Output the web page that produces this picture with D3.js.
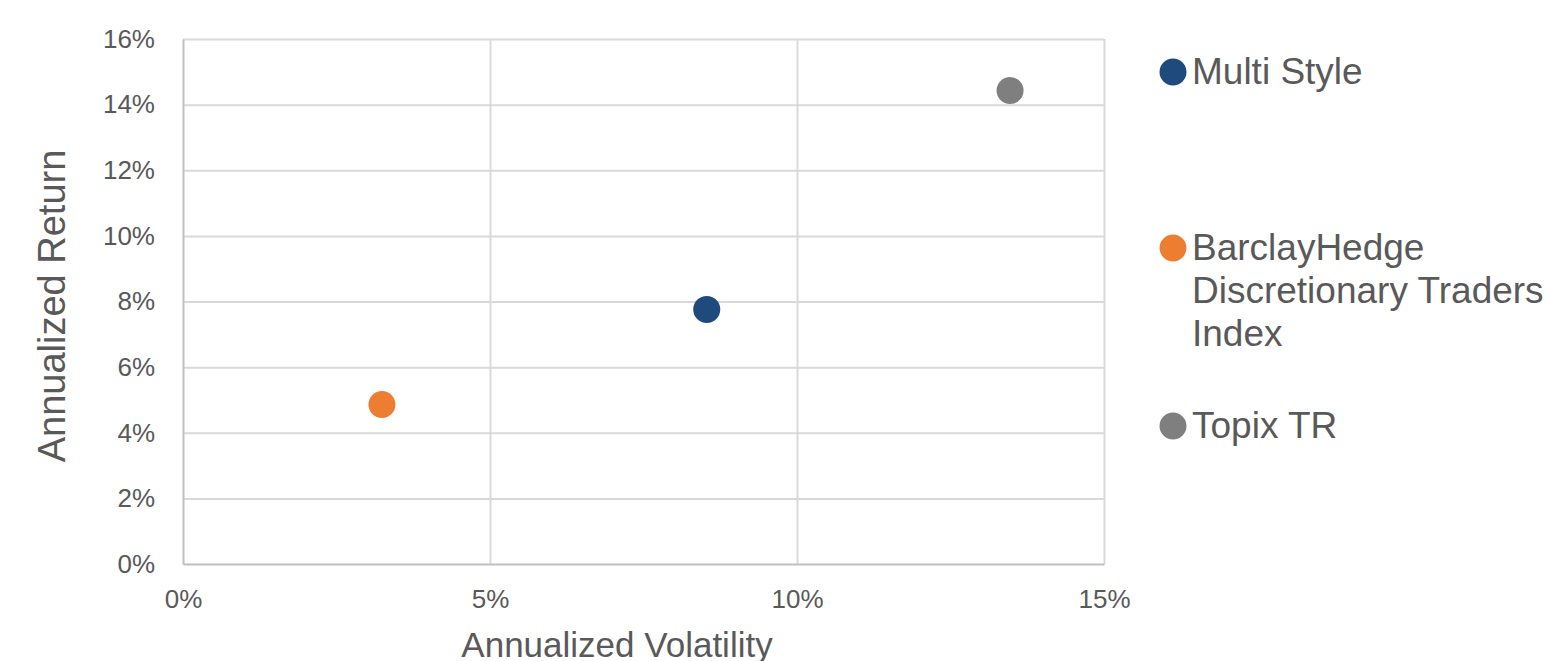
<!DOCTYPE html>
<html>
<head>
<meta charset="utf-8">
<script src="https://cdn.jsdelivr.net/npm/d3@7"></script>
<style>
  html, body { margin: 0; padding: 0; background: #fff; }
  svg { display: block; font-family: "Liberation Sans", Arial, sans-serif; }
</style>
</head>
<body>
<svg id="chart" width="1548" height="661"></svg>
<script>
// data
var seriesNames = ["Multi Style", "BarclayHedge Discretionary Traders Index", "Topix TR"];
var volatility = [0.0853, 0.0324, 0.1347];
var annReturn = [0.0776, 0.0486, 0.1443];
var xTickValues = [0, 0.05, 0.10, 0.15];
var yTickValues = [0, 0.02, 0.04, 0.06, 0.08, 0.10, 0.12, 0.14, 0.16];

var colors = ["#1f4a7d", "#ed7d31", "#7f7f7f"];
var textColor = "#595959";
var gridColor = "#d9d9d9";

var svg = d3.select("#chart");

var plotLeft = 183, plotRight = 1104, plotTop = 39, plotBottom = 564;

var x = d3.scaleLinear().domain([0, 0.15]).range([plotLeft, plotRight]);
var y = d3.scaleLinear().domain([0, 0.16]).range([plotBottom, plotTop]);
var color = d3.scaleOrdinal().domain(seriesNames).range(colors);

var points = seriesNames.map(function(name, i) {
    return { name: name, vol: volatility[i], ret: annReturn[i] };
});

// grid lines
svg.append("g")
    .attr("transform", "translate(0," + plotBottom + ")")
    .call(d3.axisBottom(x).tickValues(xTickValues.slice(1))
        .tickSize(-(plotBottom - plotTop)).tickFormat(""))
    .call(function(g) {
        g.select(".domain").remove();
        g.selectAll("line").attr("stroke", gridColor).attr("stroke-width", 2);
    });

svg.append("g")
    .attr("transform", "translate(" + plotLeft + ",0)")
    .call(d3.axisLeft(y).tickValues(yTickValues.slice(1))
        .tickSize(-(plotRight - plotLeft)).tickFormat(""))
    .call(function(g) {
        g.select(".domain").remove();
        g.selectAll("line").attr("stroke", gridColor).attr("stroke-width", 2);
    });

// x axis
var xAxis = svg.append("g")
    .attr("transform", "translate(0," + plotBottom + ")")
    .call(d3.axisBottom(x).tickValues(xTickValues).tickSize(0).tickPadding(26)
        .tickFormat(d3.format(".0%")));
xAxis.select(".domain").attr("stroke", "#bfbfbf").attr("stroke-width", 2);
xAxis.selectAll("text").attr("fill", textColor).attr("font-size", "26px")
    .attr("font-family", "Liberation Sans, Arial, sans-serif");

// y axis
var yAxis = svg.append("g")
    .attr("transform", "translate(" + plotLeft + ",0)")
    .call(d3.axisLeft(y).tickValues(yTickValues).tickSize(0).tickPadding(28)
        .tickFormat(d3.format(".0%")));
yAxis.select(".domain").attr("stroke", "#bfbfbf").attr("stroke-width", 2);
yAxis.selectAll("text").attr("fill", textColor).attr("font-size", "26px")
    .attr("font-family", "Liberation Sans, Arial, sans-serif");

// axis titles
svg.append("text")
    .attr("x", 617)
    .attr("y", 657)
    .attr("fill", textColor)
    .attr("font-size", "35px")
    .style("text-anchor", "middle")
    .text("Annualized Volatility");

svg.append("text")
    .attr("transform", "translate(65,306) rotate(-90)")
    .attr("fill", textColor)
    .attr("font-size", "38px")
    .style("text-anchor", "middle")
    .text("Annualized Return");

// points
svg.append("g").selectAll("circle")
    .data(points)
    .enter().append("circle")
    .attr("cx", function(d) { return x(d.vol); })
    .attr("cy", function(d) { return y(d.ret); })
    .attr("r", 13.5)
    .attr("fill", function(d) { return color(d.name); });

// legend
var legendY = [72, 248, 426];
var legendX = 1173;
var maxLabelWidth = 360;

var legend = svg.append("g").selectAll("g")
    .data(points)
    .enter().append("g")
    .attr("transform", function(d, i) { return "translate(" + legendX + "," + legendY[i] + ")"; });

legend.append("circle")
    .attr("r", 13.5)
    .attr("fill", function(d) { return color(d.name); });

legend.append("text")
    .attr("x", 19)
    .attr("y", 12)
    .attr("fill", textColor)
    .attr("font-size", "37px")
    .each(function(d) {
        var text = d3.select(this);
        var words = d.name.split(" ");
        var line = [];
        var tspan = text.append("tspan").attr("x", 19).attr("dy", 0);
        words.forEach(function(w) {
            line.push(w);
            tspan.text(line.join(" "));
            if (tspan.node().getComputedTextLength() > maxLabelWidth && line.length > 1) {
                line.pop();
                tspan.text(line.join(" "));
                line = [w];
                tspan = text.append("tspan").attr("x", 19).attr("dy", 43).text(w);
            }
        });
    });
</script>
</body>
</html>
